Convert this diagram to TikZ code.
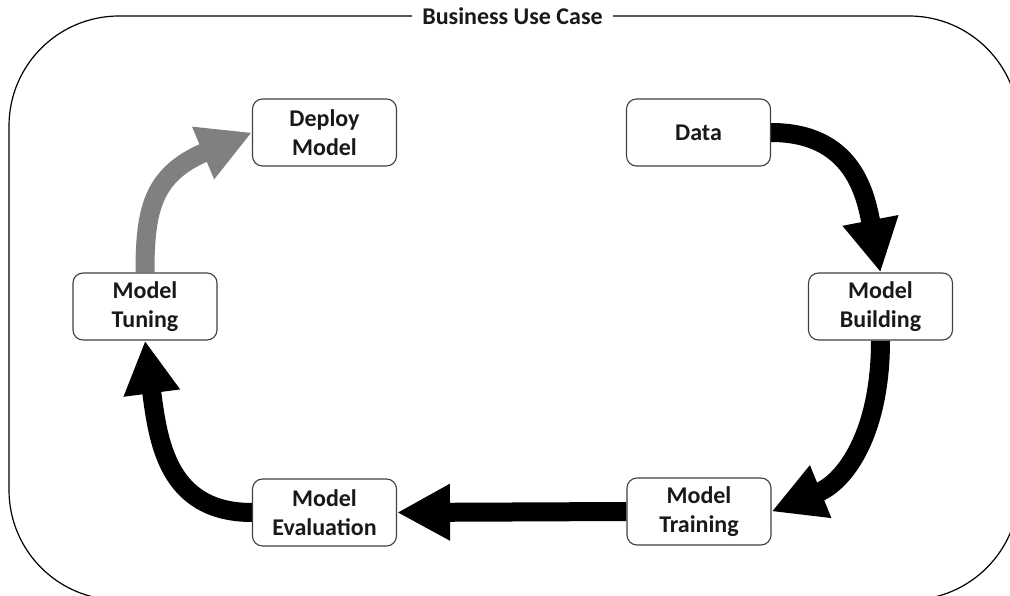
\documentclass[tikz,border=0pt]{standalone}
\usepackage{fontspec}
\setmainfont{Carlito}
\usetikzlibrary{arrows.meta,backgrounds}
\begin{document}
\begin{tikzpicture}[x=1pt,y=-1pt,
  box/.style={draw=black!75, line width=1.1pt, rounded corners=10pt, fill=white,
    minimum width=144pt, minimum height=67pt, align=center, inner sep=0pt,
    font=\fontsize{24}{29}\selectfont\bfseries, text=black!90},
  flow/.style={line width=19pt, -{Triangle[width=53pt,length=53pt]}},
  blackflow/.style={flow, draw=black},
  grayflow/.style={flow, draw=black!50},
  titlelabel/.style={fill=white, inner xsep=10pt, inner ysep=2pt,
    font=\fontsize{24}{29}\selectfont\bfseries, text=black!90}
]
\useasboundingbox (0,0) rectangle (1010,596);
\clip (0,0) rectangle (1010,596);
\draw[line width=1.2pt, rounded corners=110pt] (9,16) rectangle (1019,600);
\node[titlelabel] (title) at (512.5,16) {Business Use Case};

\node[box] (deploy) at (324.5,132.5) {Deploy\\Model};
\node[box] (data) at (698.5,132.5) {Data};
\node[box] (tuning) at (145,306.5) {Model\\Tuning};
\node[box] (building) at (880.5,306.5) {Model\\Building};
\node[box] (eval) at (324.5,512.5) {Model\\Evaluation};
\node[box] (training) at (699,511.5) {Model\\Training};

\begin{pgfonlayer}{background}
\draw[blackflow] (data.east) .. controls +(82,0) and +(-15,-78) .. (building.north);
\draw[blackflow] (building.south) .. controls +(0,92) and +(74,-30) .. (training.east);
\draw[blackflow] (training.west) -- (eval.east);
\draw[blackflow] (eval.west) .. controls +(-85,0) and +(13,100) .. (tuning.south);
\draw[grayflow] (tuning.north) .. controls +(0,-62) and +(-100,42) .. (deploy.west);
\end{pgfonlayer}
\end{tikzpicture}
\end{document}
